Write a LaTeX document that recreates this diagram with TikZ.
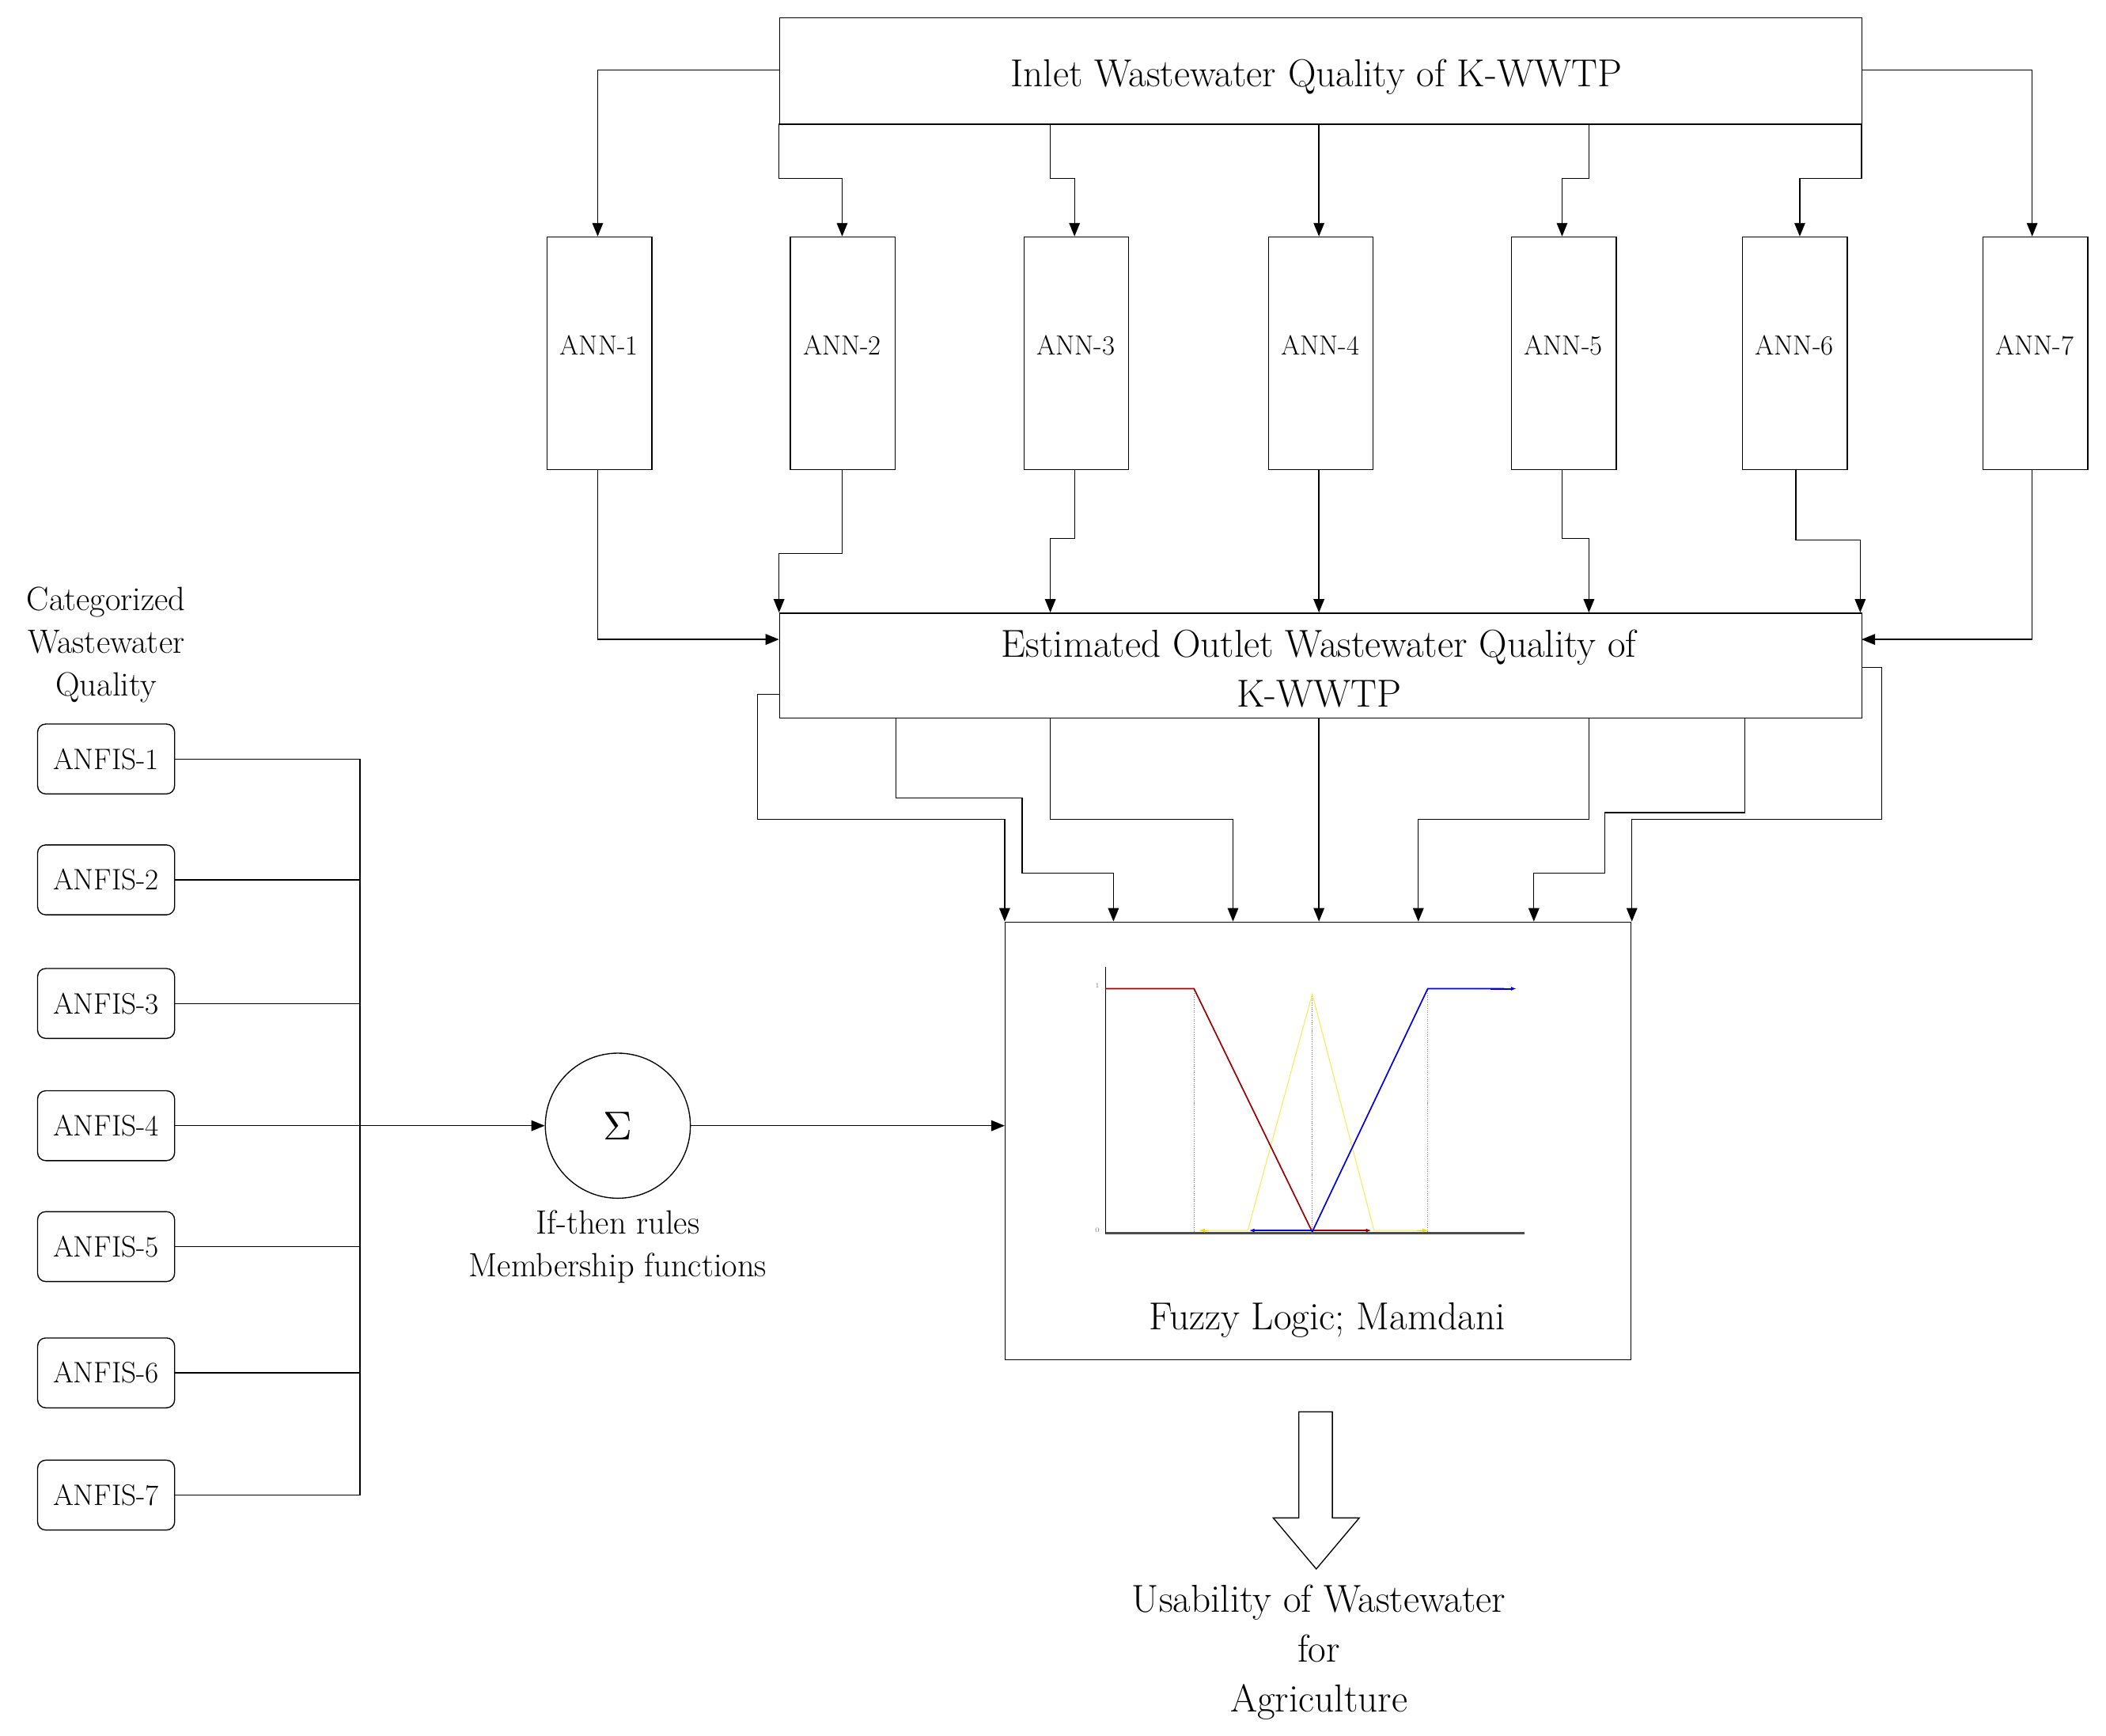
\documentclass[tikz,border=0pt]{standalone}
\usetikzlibrary{arrows.meta}
\begin{document}
\begin{tikzpicture}[x=1pt,y=-1pt,line width=0.8pt,
  arr/.style={-{Triangle[length=10pt,width=8pt]}},
  box/.style={draw,inner sep=0pt,anchor=north west},
  ann/.style={box,minimum width=78pt,minimum height=173pt},
  anfis/.style={draw,rounded corners=6pt,minimum width=102pt,minimum height=52pt,font=\fontsize{22}{22}\selectfont},
  big/.style={font=\fontsize{29}{37}\selectfont,align=center},
  mid/.style={font=\fontsize{25}{32}\selectfont,align=center}]
\useasboundingbox (0,0) rectangle (1568,1292);
% inlet
\node[box,minimum width=806pt,minimum height=79pt] (in) at (580,13) {};
\node[big] at (980,57) {Inlet Wastewater Quality of K-WWTP};
% ANN boxes
\foreach \i/\x in {1/407,2/588,3/762,4/944,5/1125,6/1297,7/1476}{
  \node[ann] (a\i) at (\x,176) {};
  \node[font=\fontsize{20.5}{20}\selectfont] at (\x+39,257) {ANN-\i};
}
% estimated
\node[box,minimum width=806pt,minimum height=78pt] (est) at (580,456) {};
\node[big] at (982,498) {Estimated Outlet Wastewater Quality of\\K-WWTP};
% fuzzy
\node[box,minimum width=466pt,minimum height=326pt] (fz) at (748,686) {};
\node[big] at (988,983) {Fuzzy Logic; Mamdani};
% inlet -> ANN
\draw[arr] (580,52) -| (445,176);
\draw[arr] (1386,52) -| (1513,176);
\draw[arr] (580,92) -- (580,133) -| (627,176);
\draw[arr] (782,92) -- (782,133) -| (800,176);
\draw[arr] (982,92) -- (982,176);
\draw[arr] (1183,92) -- (1183,133) -| (1163,176);
\draw[arr] (1386,92) -- (1386,133) -| (1340,176);
% ANN -> est
\draw[arr] (445,349) |- (580,476);
\draw[arr] (1513,349) |- (1386,476);
\draw[arr] (627,349) -- (627,412) -| (580,456);
\draw[arr] (800,349) -- (800,401) -| (782,456);
\draw[arr] (982,349) -- (982,456);
\draw[arr] (1163,349) -- (1163,401) -| (1183,456);
\draw[arr] (1337,349) -- (1337,402) -| (1385,456);
% est -> fuzzy
\draw[arr] (580,517) -| (564,610) -| (748,686);
\draw[arr] (667,534) |- (761,594) |- (829,650) -- (829,686);
\draw[arr] (782,534) |- (918,610) -- (918,686);
\draw[arr] (982,534) -- (982,686);
\draw[arr] (1183,534) |- (1056,610) -- (1056,686);
\draw[arr] (1299,534) |- (1195,605) |- (1142,650) -- (1142,686);
\draw[arr] (1386,497) -| (1401,610) -| (1215,686);
% chart
\begin{scope}[line width=0.6pt]
\draw[black!70,line width=1.4pt] (823,918) -- (1135,918);
\draw (823,720) -- (823,918);
\node[font=\tiny,gray] at (817,734) {1};
\node[font=\tiny,gray] at (817,916) {0};
\draw[densely dotted,gray] (889,736) -- (889,918) (977,740) -- (977,918) (1063,736) -- (1063,918);
\draw[yellow!80!orange!70] (893,916) -- (929,916) -- (977,740) -- (1023,916) -- (1063,916);
\draw[-{Latex[length=4pt]},yellow!70!orange] (900,916) -- (893,916);
\draw[-{Latex[length=4pt]},yellow!70!orange] (1055,916) -- (1063,916);
\draw[red!60!black,line width=1pt] (823,736) -- (889,736) -- (977,917);
\draw[-{Latex[length=4pt]},red!60!black,line width=1.2pt] (977,916) -- (1021,916);
\draw[blue!85!black,line width=1pt] (977,917) -- (1063,736) -- (1120,736);
\draw[-{Latex[length=4pt]},blue!85!black,line width=1.2pt] (1110,736) -- (1129,736);
\draw[-{Latex[length=4pt]},blue!85!black,line width=1.2pt] (977,916) -- (930,916);
\end{scope}
% hollow arrow
\draw[line width=0.8pt] (967,1051) -- (992,1051) -- (992,1130) -- (1012,1130) -- (980,1168) -- (948,1130) -- (967,1130) -- cycle;
\node[big] at (982,1230) {Usability of Wastewater\\for\\Agriculture};
% sigma
\node[draw,circle,minimum size=108pt,inner sep=0pt] (sig) at (460,838) {\scalebox{3}{$\Sigma$}};
\node[mid] at (460,928) {If-then rules\\Membership functions};
\draw[arr] (sig.east) -- (748,838);
% ANFIS
\node[mid] at (79,480) {Categorized\\Wastewater\\Quality};
\foreach \i/\y in {1/565,2/655,3/747,4/838,5/928,6/1022,7/1113}{
  \node[anfis] (f\i) at (79,\y) {ANFIS-\i};
  \draw (f\i.east) -- (268,\y);
}
\draw (268,565) -- (268,1113);
\draw[arr] (268,838) -- (sig.west);
\end{tikzpicture}
\end{document}
